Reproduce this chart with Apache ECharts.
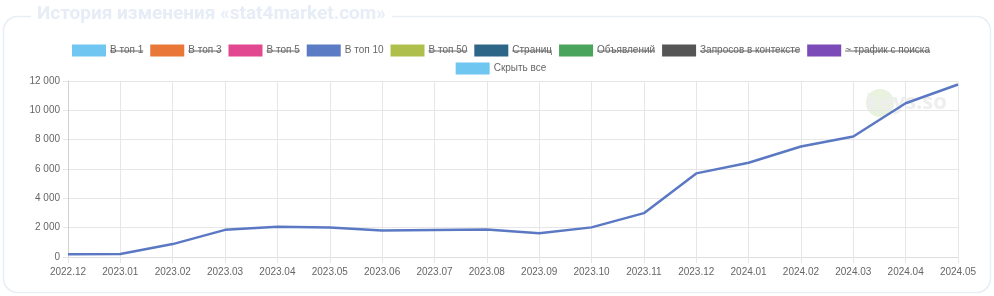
<!DOCTYPE html>
<html><head><meta charset="utf-8">
<script src="https://cdn.jsdelivr.net/npm/echarts@6/dist/echarts.min.js"></script>
<style>html,body{margin:0;padding:0;background:#fff}#c{width:994px;height:296px}</style>
</head><body><div id="c"></div>
<script>
const categories = ['2022.12','2023.01','2023.02','2023.03','2023.04','2023.05','2023.06','2023.07','2023.08','2023.09','2023.10','2023.11','2023.12','2024.01','2024.02','2024.03','2024.04','2024.05'];
const top10 = [180,200,880,1850,2060,2010,1800,1840,1880,1620,2020,2990,5700,6430,7530,8220,10480,11760];
const legendNames = ['В топ 1','В топ 3','В топ 5','В топ 10','В топ 50','Страниц','Объявлений','Запросов в контексте','~ трафик с поиска'];
const legendColors = ['#6ec6f1','#e97838','#e2488f','#5b7bc4','#aebf4c','#2e6688','#4aa45b','#555555','#7b4bb8'];
const legendHidden = [true,true,true,false,true,true,true,true,true];
const hideAllLabel = 'Скрыть все';
const hideAllColor = '#6ec6f1';
const titleText = 'История изменения «stat4market.com»';
const watermarkText = 'keys.so';

const LFONT = '10px "Liberation Sans", Arial, sans-serif';
const cv = document.createElement('canvas').getContext('2d');
function tw(t, f){ cv.font = f; return cv.measureText(t).width; }

const BOXW = 34, BOXH = 12, GAP_IT = 4, GAP_ITEM = 7, CENTER = 501;
function legendRow(items, cy){
  const widths = items.map(it => BOXW + GAP_IT + tw(it.name, LFONT));
  const total = widths.reduce((a,b)=>a+b,0) + GAP_ITEM*(items.length-1);
  let x = CENTER - total/2;
  const els = [];
  items.forEach((it,i)=>{
    els.push({type:'rect', shape:{x:x, y:cy-BOXH/2, width:BOXW, height:BOXH}, style:{fill:it.color}});
    const tx = x + BOXW + GAP_IT;
    const w = tw(it.name, LFONT);
    els.push({type:'text', style:{x:tx, y:cy, text:it.name, font:LFONT, fill:'#666', verticalAlign:'middle'}});
    if (it.hidden) els.push({type:'line', shape:{x1:tx, y1:cy+0.5, x2:tx+w, y2:cy+0.5}, style:{stroke:'#666', lineWidth:1}});
    x += widths[i] + GAP_ITEM;
  });
  return els;
}
const row1 = legendNames.map((n,i)=>({name:n, color:legendColors[i], hidden:legendHidden[i]}));
const row2 = [{name:hideAllLabel, color:hideAllColor, hidden:false}];

const graphics = [
  {type:'rect', z:0, shape:{x:3.5, y:16.5, width:987, height:276, r:14}, style:{fill:null, stroke:'#e8eef5', lineWidth:1.5}},
  {type:'text', z:1, style:{x:31, y:14, text:titleText, font:'bold 19px Roboto, sans-serif', fill:'#e6edf6', verticalAlign:'middle', backgroundColor:'#fff', padding:[0,6,0,6]}},
  {type:'circle', z:0, shape:{cx:880, cy:103, r:14}, style:{fill:'#e9f2df'}},
  {type:'text', z:0, style:{x:866, y:103, text:watermarkText, font:'bold 22px "Open Sans", sans-serif', fill:'#eeeeee', verticalAlign:'middle'}},
  ...legendRow(row1, 50.5),
  ...legendRow(row2, 68.5)
];

const chart = echarts.init(document.getElementById('c'), null, {renderer:'canvas'});
chart.setOption({
  animation:false,
  grid:{left:68, right:36, top:81, bottom:39, containLabel:false},
  xAxis:{type:'category', data:categories, boundaryGap:false,
    axisLine:{lineStyle:{color:'#dedede'}},
    axisTick:{show:true, length:6, lineStyle:{color:'#e6e6e6'}},
    axisLabel:{color:'#666', fontSize:10, fontFamily:'"Liberation Sans", Arial, sans-serif', margin:10, interval:0},
    splitLine:{show:true, lineStyle:{color:'#e6e6e6'}}},
  yAxis:{type:'value', min:0, max:12000, interval:2000,
    axisLine:{show:true, lineStyle:{color:'#d0d0d0'}},
    axisTick:{show:true, length:5, lineStyle:{color:'#e6e6e6'}},
    axisLabel:{color:'#666', fontSize:10, fontFamily:'"Liberation Sans", Arial, sans-serif', margin:8,
      formatter:v=>String(v).replace(/\B(?=(\d{3})+(?!\d))/g,' ')},
    splitLine:{show:true, lineStyle:{color:'#e6e6e6'}}},
  graphic:{elements:graphics},
  series:[{name:'В топ 10', type:'line', data:top10, showSymbol:false, z:3,
    lineStyle:{color:'#5b78c3', width:2.5}, itemStyle:{color:'#5b78c3'}}]
});
</script></body></html>
